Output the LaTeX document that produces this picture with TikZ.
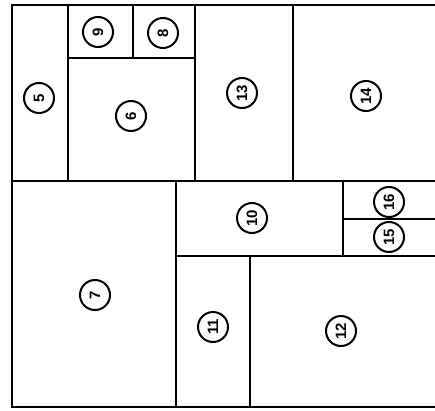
\documentclass[tikz,border=0pt]{standalone}
\usepackage{fontspec}
\setmainfont{Liberation Sans}
\begin{document}
\begin{tikzpicture}[x=1pt,y=1pt,
  wall/.style={line width=2.4pt, line cap=rect, line join=miter},
  tag/.style={circle, draw, line width=2pt, minimum size=30pt, inner sep=0pt,
    font=\fontsize{15}{15}\selectfont\bfseries, rotate=90}]
\useasboundingbox (0,0) rectangle (435,410);
% outer frame (open on the right)
\draw[wall] (436,405) -- (12,405) -- (12,3) -- (436,3);
% middle horizontal
\draw[wall] (12,229) -- (436,229);
% upper part
\draw[wall] (68,405) -- (68,229);
\draw[wall] (68,352) -- (195,352);
\draw[wall] (133,405) -- (133,352);
\draw[wall] (195,405) -- (195,229);
\draw[wall] (293,405) -- (293,229);
% lower part
\draw[wall] (176,229) -- (176,3);
\draw[wall] (176,154) -- (436,154);
\draw[wall] (343,229) -- (343,154);
\draw[wall] (343,191) -- (436,191);
\draw[wall] (250,154) -- (250,3);
% labels
\node[tag] (n5)  at (39,312)  {5};
\node[tag] (n9)  at (98,378)  {9};
\node[tag] (n8)  at (163,377) {8};
\node[tag] (n6)  at (131,294) {6};
\node[tag] (n13) at (242,317) {13};
\node[tag] (n14) at (366,314) {14};
\node[tag] (n7)  at (95,115)  {7};
\node[tag] (n10) at (252,192) {10};
\node[tag] (n16) at (389,208) {16};
\node[tag] (n15) at (389,173) {15};
\node[tag] (n11) at (213,83)  {11};
\node[tag] (n12) at (341,79)  {12};
\end{tikzpicture}
\end{document}
